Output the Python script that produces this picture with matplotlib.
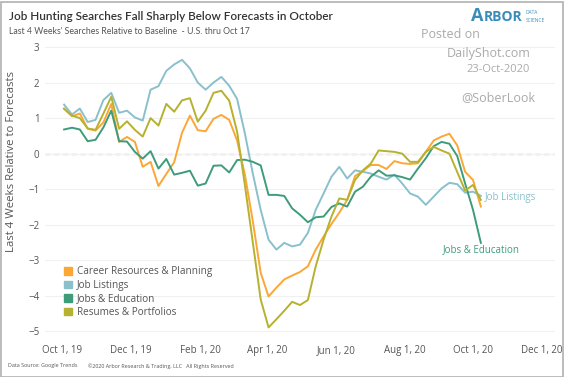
import matplotlib
matplotlib.use('Agg')
import matplotlib.pyplot as plt
import pandas as pd
from matplotlib.patches import Rectangle

plt.rcParams['font.family'] = ['Open Sans', 'DejaVu Sans']

# weekly points, last 4 weeks vs baseline
dates = pd.date_range('2019-10-03', periods=54, freq='7D')

career = [1.27, 1.05, 1.13, 0.70, 0.65, 0.88, 1.40, 0.33, 0.47, 0.33,
          -0.37, -0.23, -0.91, -0.57, -0.24, 0.59, 1.07, 0.66, 0.63, 0.98,
          1.09, 0.95, 0.37, -0.6, -1.9, -3.35, -4.02, -3.77, -3.54, -3.43,
          -3.33, -3.17, -2.70, -2.33, -1.98, -1.66, -1.30, -0.63, -0.49, -0.32,
          -0.32, -0.43, -0.21, -0.27, -0.29, -0.27, 0.05, 0.37, 0.48, 0.56,
          0.23, -0.51, -0.74, -1.49]
listings = [1.38, 1.10, 1.27, 0.89, 0.95, 1.51, 1.71, 1.15, 1.21, 1.02,
            0.93, 1.80, 1.90, 2.33, 2.51, 2.64, 2.40, 2.00, 1.80, 2.00,
            2.16, 1.91, 1.54, 0.56, -0.56, -1.58, -2.42, -2.70, -2.51, -2.61,
            -2.56, -2.23, -1.58, -1.12, -0.65, -0.37, -0.70, -0.47, -0.51, -0.56,
            -0.65, -0.73, -0.59, -0.84, -1.12, -1.21, -1.44, -1.21, -0.98, -0.82,
            -0.86, -1.10, -1.07, -1.19]
jobs_edu = [0.68, 0.73, 0.68, 0.35, 0.39, 0.74, 1.21, 0.35, 0.34, 0.05,
            -0.14, 0.07, -0.42, -0.15, -0.59, -0.54, -0.48, -0.90, -0.84, -0.34,
            -0.33, -0.53, -0.18, -0.17, -0.23, -0.33, -1.16, -1.16, -1.19, -1.54,
            -1.72, -1.93, -1.79, -1.77, -1.50, -1.40, -1.49, -1.07, -0.93, -0.65,
            -0.47, -0.62, -0.61, -0.66, -0.73, -0.42, -0.13, 0.21, 0.33, 0.28,
            -0.07, -0.84, -1.58, -2.51]
resumes = [1.26, 1.07, 1.00, 0.71, 0.67, 1.13, 1.60, 0.70, 0.91, 0.67,
           0.48, 1.00, 0.79, 1.40, 1.18, 1.50, 1.56, 0.90, 1.21, 1.71,
           1.77, 1.49, 0.62, -0.9, -2.5, -4.10, -4.89, -4.66, -4.42, -4.17,
           -4.26, -4.12, -3.17, -2.42, -1.77, -1.26, -1.30, -0.74, -0.47, -0.28,
           0.09, 0.07, 0.05, 0.0, -0.23, -0.23, 0.05, 0.19, 0.09, 0.0,
           -0.52, -1.04, -0.88, -1.30]

labels = ['Career Resources & Planning', 'Job Listings', 'Jobs & Education',
          'Resumes & Portfolios']
colors = ['#FBA736', '#8AC0CC', '#3E9C7B', '#B6B12F']
series = [career, listings, jobs_edu, resumes]

tick_dates = pd.to_datetime(['2019-10-01', '2019-12-01', '2020-02-01', '2020-04-01',
                             '2020-06-01', '2020-08-01', '2020-10-01', '2020-12-01'])
tick_labels = ['Oct 1, 19', 'Dec 1, 19', 'Feb 1, 20', 'Apr 1, 20',
               'Jun 1, 20', 'Aug 1, 20', 'Oct 1, 20', 'Dec 1, 20']

W, H = 564, 377
fig = plt.figure(figsize=(W / 100, H / 100), dpi=100)
fig.patch.set_facecolor('white')
ax = fig.add_axes([45 / W, 1 - 342 / H, 510 / W, 301 / H])

for vals, c, lab in zip(series, colors, labels):
    ax.plot(dates, vals, color=c, lw=1.4, label=lab)

ax.axhline(0, color='#A0A0A0', lw=0.9, ls=(0, (4, 3)), zorder=0)
ax.set_ylim(-5.3, 3.17)
ax.set_yticks(range(-5, 4))
ax.set_xlim(pd.Timestamp('2019-09-16'), pd.Timestamp('2020-12-13'))
ax.set_xticks(tick_dates)
ax.set_xticklabels(tick_labels)
ax.grid(axis='y', color='#F0F0F0', lw=0.8)
ax.set_axisbelow(True)
for s in ax.spines.values():
    s.set_visible(False)
ax.tick_params(length=0, labelsize=7, labelcolor='#555555', pad=4)
ax.tick_params(axis='x', pad=2)
ax.set_ylabel('Last 4 Weeks Relative to Forecasts', fontsize=8.2, color='#555555')
ax.yaxis.set_label_coords(-0.055, 0.60)

# square legend markers
handles = [Rectangle((0, 0), 1, 1, color=c) for c in colors]
ax.legend(handles, labels, loc='lower left', bbox_to_anchor=(0.02, 0.05), frameon=False,
          fontsize=7.2, handlelength=0.8, handleheight=0.8, handletextpad=0.5,
          labelspacing=0.25, labelcolor='#555555')

# end labels
ax.annotate('Job Listings', (dates[-1], listings[-1]), xytext=(3, -1),
            textcoords='offset points', fontsize=7, color=colors[1], va='center')
ax.annotate('Jobs & Education', (dates[-1], jobs_edu[-1]), xytext=(0, -5),
            textcoords='offset points', fontsize=7, color=colors[2], ha='center', va='center')

# titles
fig.text(9 / W, 1 - 17 / H, 'Job Hunting Searches Fall Sharply Below Forecasts in October',
         fontsize=8.5, color='#333333', va='center', fontweight='semibold', family='Lato')
fig.text(9 / W, 1 - 31 / H, "Last 4 Weeks' Searches Relative to Baseline  - U.S. thru Oct 17",
         fontsize=6.3, color='#555555', va='center', family='Lato')

# logo + watermark
fig.text(471 / W, 1 - 16 / H, 'A', fontsize=13, color='#3A8DB8', va='center', fontweight='bold')
fig.text(484 / W, 1 - 17 / H, 'RBOR', fontsize=10, color='#3A8DB8', va='center', fontweight='bold')
fig.text(526 / W, 1 - 13 / H, 'DATA', fontsize=3.5, color='#3A8DB8', va='center')
fig.text(526 / W, 1 - 20 / H, 'SCIENCE', fontsize=3.5, color='#3A8DB8', va='center')
fig.text(480 / W, 1 - 35 / H, 'Posted on', fontsize=9, color='#AAAAAA', ha='right', va='center')
fig.text(531 / W, 1 - 53 / H, 'DailyShot.com', fontsize=9, color='#AAAAAA', ha='right', va='center')
fig.text(530 / W, 1 - 70 / H, '23-Oct-2020', fontsize=8, color='#AAAAAA', ha='right', va='center')
fig.text(535 / W, 1 - 98 / H, '@SoberLook', fontsize=9, color='#AAAAAA', ha='right', va='center')

# footer
fig.text(8 / W, 1 - 366 / H, 'Data Source: Google Trends', fontsize=3.9, color='#555555', va='center')
fig.text(88 / W, 1 - 366 / H, '\u00a92020 Arbor Research & Trading, LLC   All Rights Reserved',
         fontsize=3.9, color='#555555', va='center')

# outer frame
fig.patches.append(Rectangle((0.5 / W, 0.5 / H), 1 - 2 / W, 1 - 2 / H, transform=fig.transFigure,
                             fill=False, edgecolor='#B0B0B0', lw=1.2))

fig.savefig('out.png', dpi=100)
